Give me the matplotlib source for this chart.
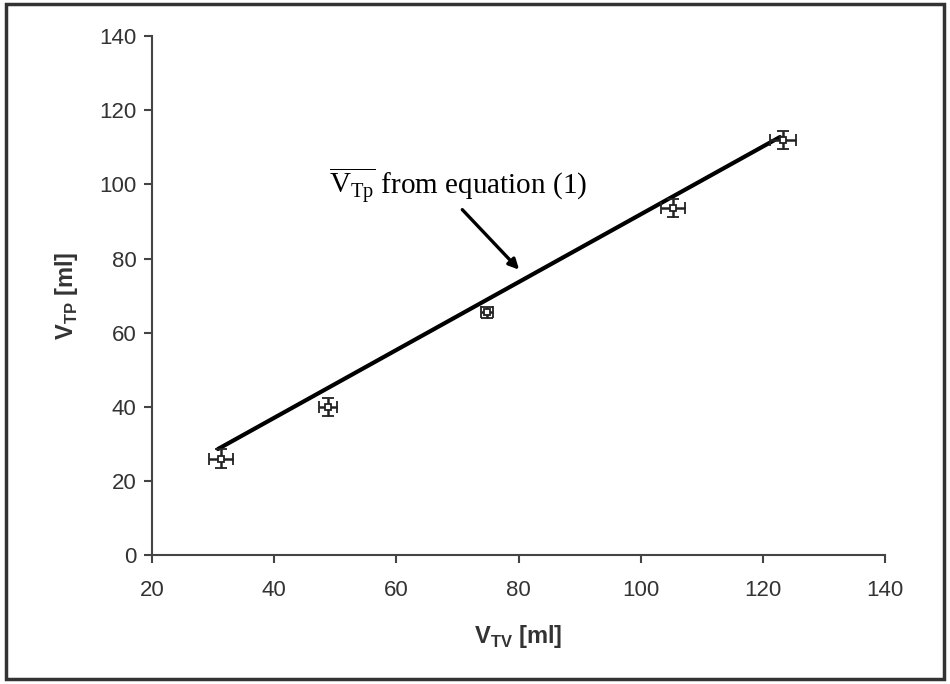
import matplotlib
matplotlib.use("Agg")
import matplotlib.pyplot as plt
import matplotlib.patches as mpatches

# Data
vtv = [31.3, 48.8, 74.8, 105.3, 123.3]
vtp = [26.0, 40.0, 65.5, 93.6, 112.0]
xerr = [2.0, 1.5, 1.0, 2.0, 2.2]
yerr = [2.5, 2.5, 1.5, 2.5, 2.5]
line_x = [30.8, 122.8]
line_y = [28.6, 112.8]
xticks = [20, 40, 60, 80, 100, 120, 140]
yticks = [0, 20, 40, 60, 80, 100, 120, 140]

plt.rcParams['font.family'] = ['Liberation Sans', 'DejaVu Sans']
plt.rcParams['mathtext.fontset'] = 'custom'

fig = plt.figure(figsize=(9.5, 6.84), dpi=100)
ax = fig.add_axes([0.16, 0.1886, 0.7716, 0.7584])

ax.plot(line_x, line_y, color='black', lw=3, solid_capstyle='round', zorder=2)
ax.errorbar(vtv, vtp, xerr=xerr, yerr=yerr, fmt='s', mfc='white', mec='#222222',
            ms=5, mew=1.3, ecolor='#222222', elinewidth=1.8, capsize=4, capthick=1.8, zorder=3)

ax.set_xlim(20, 140)
ax.set_ylim(0, 140)
ax.set_xticks(xticks)
ax.set_yticks(yticks)
for s in ['top', 'right']:
    ax.spines[s].set_visible(False)
for s in ['left', 'bottom']:
    ax.spines[s].set_color('#444444')
    ax.spines[s].set_linewidth(1.5)
ax.tick_params(direction='out', length=6, width=1.5, color='#444444',
               labelsize=16, labelcolor='#333333')
ax.tick_params(axis='x', pad=12)
ax.tick_params(axis='y', pad=5)

ax.set_xlabel(r'V$_{\mathregular{TV}}$ [ml]', fontsize=17, fontweight='bold', color='#333333', labelpad=16)
ax.set_ylabel(r'V$_{\mathregular{TP}}$ [ml]', fontsize=17, fontweight='bold', color='#333333', labelpad=14)

ax.text(49.0, 99.8, r'$\overline{\mathregular{V_{Tp}}}$ from equation (1)',
        fontsize=21, family='Liberation Serif', ha='left', va='center')
ax.annotate('', xy=(80.1, 77.0), xytext=(70.8, 93.2),
            arrowprops=dict(arrowstyle='-|>', color='black', lw=2.4,
                            shrinkA=0, shrinkB=0, mutation_scale=15))

border = mpatches.Rectangle((0.006, 0.008), 0.988, 0.986, transform=fig.transFigure,
                            fill=False, edgecolor='#333333', lw=2.5)
fig.patches.append(border)

fig.savefig('out.png', dpi=100)
